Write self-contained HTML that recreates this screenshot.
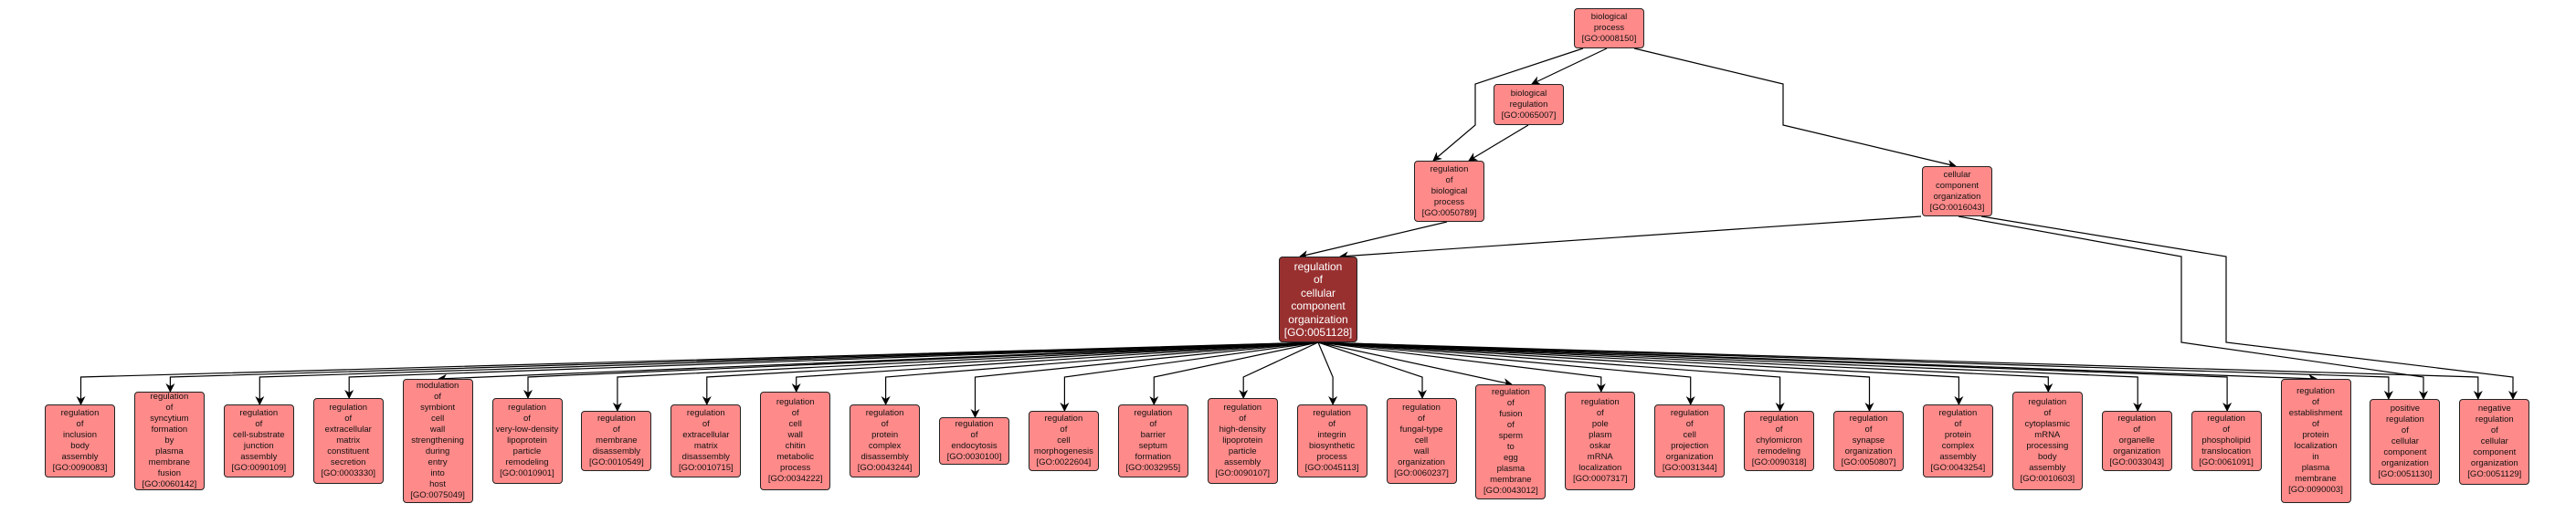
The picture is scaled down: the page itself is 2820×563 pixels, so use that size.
<!DOCTYPE html>
<html><head><meta charset="utf-8"><style>
html,body{margin:0;padding:0;background:#fff;}
body{width:2820px;height:563px;position:relative;overflow:hidden;font-family:"Liberation Sans",sans-serif;}
.n{position:absolute;width:77px;background:#ff8a8a;border:1px solid #222;border-radius:4px;display:flex;align-items:center;justify-content:center;text-align:center;font-size:9.5px;line-height:12px;color:#111;box-sizing:border-box;overflow:hidden;}
.m{background:#993030;color:#fff;font-size:12px;line-height:14.5px;width:86px;}
svg{position:absolute;left:0;top:0;}
</style></head><body>
<svg width="2820" height="563" viewBox="0 0 2820 563">
<defs><marker id="a" markerWidth="10" markerHeight="10" refX="9" refY="5" orient="auto" markerUnits="userSpaceOnUse"><path d="M0,0 L10,5 L0,10 L3,5 z" fill="#000"/></marker></defs>
<g fill="none" stroke="#000" stroke-width="1.2" marker-end="url(#a)">
<path d="M1759 53 L1677 92"/>
<path d="M1733 53 L1615 92 L1615 137 L1569 176"/>
<path d="M1673 137 L1608 176"/>
<path d="M1789 53 L1952 92 L1952 137 L2141 182"/>
<path d="M1584 243 L1423 281"/>
<path d="M2103 237 L1467 281"/>
<path d="M2144 237 L2388 281 L2388 375 L2653 413 L2653 437"/>
<path d="M2169 237 L2437 281 L2437 375 L2751 413 L2751 437"/>
<path d="M1443 375 L88.5 413 L88.5 443"/>
<path d="M1443 375 L186.4 413 L186.4 429"/>
<path d="M1443 375 L284.3 413 L284.3 443"/>
<path d="M1443 375 L382.2 413 L382.2 436"/>
<path d="M1443 375 L480.1 415"/>
<path d="M1443 375 L578 413 L578 436"/>
<path d="M1443 375 L675.9 413 L675.9 450"/>
<path d="M1443 375 L773.8 413 L773.8 443"/>
<path d="M1443 375 L871.7 413 L871.7 429"/>
<path d="M1443 375 L969.6 413 L969.6 443"/>
<path d="M1443 375 L1067.5 413 L1067.5 457"/>
<path d="M1443 375 L1165.4 413 L1165.4 450"/>
<path d="M1443 375 L1263.3 413 L1263.3 443"/>
<path d="M1443 375 L1361.2 413 L1361.2 436"/>
<path d="M1443 375 L1459.1 413 L1459.1 443"/>
<path d="M1443 375 L1557 413 L1557 436"/>
<path d="M1443 375 L1654.9 421"/>
<path d="M1443 375 L1752.8 413 L1752.8 429"/>
<path d="M1443 375 L1850.7 413 L1850.7 443"/>
<path d="M1443 375 L1948.6 413 L1948.6 450"/>
<path d="M1443 375 L2046.5 413 L2046.5 450"/>
<path d="M1443 375 L2144.4 413 L2144.4 443"/>
<path d="M1443 375 L2242.3 413 L2242.3 429"/>
<path d="M1443 375 L2340.2 413 L2340.2 450"/>
<path d="M1443 375 L2438.1 413 L2438.1 450"/>
<path d="M1443 375 L2536 415"/>
<path d="M1443 375 L2614.9 413 L2614.9 437"/>
<path d="M1443 375 L2712.8 413 L2712.8 437"/>
</g>
</svg>
<div class="n" style="left:1723px;top:9px;height:44px">biological<br>process<br>[GO:0008150]</div>
<div class="n" style="left:1635px;top:92px;height:45px">biological<br>regulation<br>[GO:0065007]</div>
<div class="n" style="left:1548px;top:176px;height:67px">regulation<br>of<br>biological<br>process<br>[GO:0050789]</div>
<div class="n" style="left:2104px;top:182px;height:55px">cellular<br>component<br>organization<br>[GO:0016043]</div>
<div class="n m" style="left:1400px;top:281px;height:94px">regulation<br>of<br>cellular<br>component<br>organization<br>[GO:0051128]</div>

<div class="n" style="left:49px;top:443px;height:80px">regulation<br>of<br>inclusion<br>body<br>assembly<br>[GO:0090083]</div>
<div class="n" style="left:146.9px;top:429px;height:108px">regulation<br>of<br>syncytium<br>formation<br>by<br>plasma<br>membrane<br>fusion<br>[GO:0060142]</div>
<div class="n" style="left:244.8px;top:443px;height:80px">regulation<br>of<br>cell-substrate<br>junction<br>assembly<br>[GO:0090109]</div>
<div class="n" style="left:342.7px;top:436px;height:94px">regulation<br>of<br>extracellular<br>matrix<br>constituent<br>secretion<br>[GO:0003330]</div>
<div class="n" style="left:440.6px;top:415px;height:136px">modulation<br>of<br>symbiont<br>cell<br>wall<br>strengthening<br>during<br>entry<br>into<br>host<br>[GO:0075049]</div>
<div class="n" style="left:538.5px;top:436px;height:94px">regulation<br>of<br>very-low-density<br>lipoprotein<br>particle<br>remodeling<br>[GO:0010901]</div>
<div class="n" style="left:636.4px;top:450px;height:66px">regulation<br>of<br>membrane<br>disassembly<br>[GO:0010549]</div>
<div class="n" style="left:734.3px;top:443px;height:80px">regulation<br>of<br>extracellular<br>matrix<br>disassembly<br>[GO:0010715]</div>
<div class="n" style="left:832.2px;top:429px;height:108px">regulation<br>of<br>cell<br>wall<br>chitin<br>metabolic<br>process<br>[GO:0034222]</div>
<div class="n" style="left:930.1px;top:443px;height:80px">regulation<br>of<br>protein<br>complex<br>disassembly<br>[GO:0043244]</div>
<div class="n" style="left:1028px;top:457px;height:52px">regulation<br>of<br>endocytosis<br>[GO:0030100]</div>
<div class="n" style="left:1125.9px;top:450px;height:66px">regulation<br>of<br>cell<br>morphogenesis<br>[GO:0022604]</div>
<div class="n" style="left:1223.8px;top:443px;height:80px">regulation<br>of<br>barrier<br>septum<br>formation<br>[GO:0032955]</div>
<div class="n" style="left:1321.7px;top:436px;height:94px">regulation<br>of<br>high-density<br>lipoprotein<br>particle<br>assembly<br>[GO:0090107]</div>
<div class="n" style="left:1419.6px;top:443px;height:80px">regulation<br>of<br>integrin<br>biosynthetic<br>process<br>[GO:0045113]</div>
<div class="n" style="left:1517.5px;top:436px;height:94px">regulation<br>of<br>fungal-type<br>cell<br>wall<br>organization<br>[GO:0060237]</div>
<div class="n" style="left:1615.4px;top:421px;height:126px">regulation<br>of<br>fusion<br>of<br>sperm<br>to<br>egg<br>plasma<br>membrane<br>[GO:0043012]</div>
<div class="n" style="left:1713.3px;top:429px;height:108px">regulation<br>of<br>pole<br>plasm<br>oskar<br>mRNA<br>localization<br>[GO:0007317]</div>
<div class="n" style="left:1811.2px;top:443px;height:80px">regulation<br>of<br>cell<br>projection<br>organization<br>[GO:0031344]</div>
<div class="n" style="left:1909.1px;top:450px;height:66px">regulation<br>of<br>chylomicron<br>remodeling<br>[GO:0090318]</div>
<div class="n" style="left:2007px;top:450px;height:66px">regulation<br>of<br>synapse<br>organization<br>[GO:0050807]</div>
<div class="n" style="left:2104.9px;top:443px;height:80px">regulation<br>of<br>protein<br>complex<br>assembly<br>[GO:0043254]</div>
<div class="n" style="left:2202.8px;top:429px;height:108px">regulation<br>of<br>cytoplasmic<br>mRNA<br>processing<br>body<br>assembly<br>[GO:0010603]</div>
<div class="n" style="left:2300.7px;top:450px;height:66px">regulation<br>of<br>organelle<br>organization<br>[GO:0033043]</div>
<div class="n" style="left:2398.6px;top:450px;height:66px">regulation<br>of<br>phospholipid<br>translocation<br>[GO:0061091]</div>
<div class="n" style="left:2496.5px;top:415px;height:136px">regulation<br>of<br>establishment<br>of<br>protein<br>localization<br>in<br>plasma<br>membrane<br>[GO:0090003]</div>
<div class="n" style="left:2594.4px;top:437px;height:94px">positive<br>regulation<br>of<br>cellular<br>component<br>organization<br>[GO:0051130]</div>
<div class="n" style="left:2692.3px;top:437px;height:94px">negative<br>regulation<br>of<br>cellular<br>component<br>organization<br>[GO:0051129]</div>
</body></html>
